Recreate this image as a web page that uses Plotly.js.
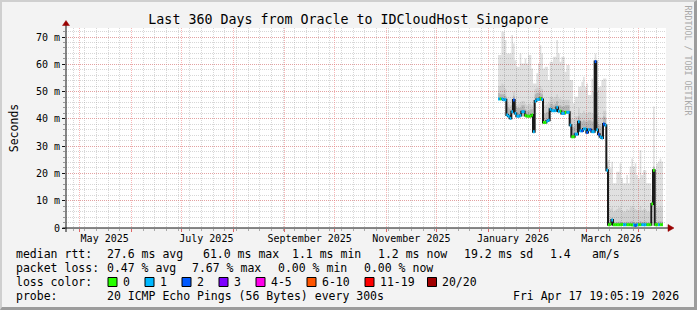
<!DOCTYPE html>
<html><head><meta charset="utf-8">
<script src="https://cdn.plot.ly/plotly-3.0.1.min.js"></script>
<style>
html,body{margin:0;padding:0;background:#f3f3f3;}
#wrap{position:relative;width:697px;height:310px;overflow:hidden;}
#frame{position:absolute;left:0;top:0;width:697px;height:310px;box-sizing:border-box;border-left:2px solid #cfcfcf;border-top:2px solid #cfcfcf;border-right:3px solid #9c9c9c;border-bottom:3px solid #9c9c9c;pointer-events:none;}
</style>
</head><body>
<div id="wrap"><div id="chart"></div><div id="frame"></div></div>
<script>
// ---- data ----
const rangeStart = '2025-04-22 19:05:19';
const rangeEnd = '2026-04-17 19:05:19';

const days = [
 "2026-01-07","2026-01-08","2026-01-09","2026-01-10","2026-01-11","2026-01-12","2026-01-13","2026-01-14","2026-01-15","2026-01-16",
 "2026-01-17","2026-01-18","2026-01-19","2026-01-20","2026-01-21","2026-01-22","2026-01-23","2026-01-24","2026-01-25","2026-01-26",
 "2026-01-27","2026-01-28","2026-01-29","2026-01-30","2026-01-31","2026-02-01","2026-02-02","2026-02-03","2026-02-04","2026-02-05",
 "2026-02-06","2026-02-07","2026-02-08","2026-02-09","2026-02-10","2026-02-11","2026-02-12","2026-02-13","2026-02-14","2026-02-15",
 "2026-02-16","2026-02-17","2026-02-18","2026-02-19","2026-02-20","2026-02-21","2026-02-22","2026-02-23","2026-02-24","2026-02-25",
 "2026-02-26","2026-02-27","2026-02-28","2026-03-01","2026-03-02","2026-03-03","2026-03-04","2026-03-05","2026-03-06","2026-03-07",
 "2026-03-08","2026-03-09","2026-03-10","2026-03-11","2026-03-12","2026-03-13","2026-03-14","2026-03-15","2026-03-16","2026-03-17",
 "2026-03-18","2026-03-19","2026-03-20","2026-03-21","2026-03-22","2026-03-23","2026-03-24","2026-03-25","2026-03-26","2026-03-27",
 "2026-03-28","2026-03-29","2026-03-30","2026-03-31","2026-04-01","2026-04-02","2026-04-03","2026-04-04","2026-04-05","2026-04-06",
 "2026-04-07","2026-04-08","2026-04-09","2026-04-10","2026-04-11","2026-04-12","2026-04-13","2026-04-14","2026-04-15","2026-04-16"
];

// median rtt (ms)
const medianMs = [
 47.3,47.3,47.3,47.0,47.0, 41.4,41.0,40.2,42.6,46.9,
 42.0,41.0,41.0,41.2,42.6, 42.6,41.2,41.0,41.0,41.0,
 41.4,35.3,46.5,47.1,47.1, 47.5,47.1,38.7,38.7,39.2,
 39.5,43.5,43.0,43.0,43.0, 44.2,42.8,42.8,42.0,42.0,
 42.4,42.4,42.4,37.7,33.4, 33.4,34.4,34.4,38.9,35.6,
 35.6,36.3,36.3,35.0,36.0, 36.0,35.3,35.3,61.0,36.0,
 34.4,33.4,33.0,38.1,37.7, 21.2,1.2,1.4,2.9,1.2,
 1.2,1.2,1.2,1.2,1.3, 1.2,1.2,1.2,1.2,1.2,
 1.1,1.2,0.9,1.2,1.2, 1.2,1.2,1.2,1.2,1.2,
 1.2,1.2,8.8,21.2,1.2, 1.2,1.2,1.2,1.2,1.2
];

// loss bucket index per step (0 -> "0", 1 -> "1", 2 -> "2")
const lossBucket = [
 1,0,1,1,1, 1,1,1,1,2,
 1,1,1,1,1, 1,0,0,0,0,
 0,1,1,1,1, 0,1,0,0,1,
 1,1,1,1,1, 1,1,0,1,1,
 0,1,1,1,0, 0,1,1,1,1,
 2,1,1,2,1, 2,1,1,2,1,
 2,1,1,2,1, 1,0,0,1,0,
 0,0,0,0,0, 1,1,0,0,0,
 0,1,2,1,0, 0,1,1,1,0,
 0,0,0,0,0, 0,1,0,0,0
];

// top of the darkest smoke just above the median (ms)
const smokeDenseMs = [
 49.5,49.0,49.0,49.0,48.5, 44.5,44.0,43.5,45.0,48.5,
 44.5,44.0,44.0,44.0,45.0, 45.0,43.5,43.0,43.0,43.5,
 43.5,40.0,49.0,49.5,49.5, 49.5,49.0,42.0,42.0,42.5,
 42.5,45.5,45.5,45.0,45.5, 46.5,45.0,45.0,44.5,44.5,
 45.0,45.0,45.0,40.0,37.0, 37.0,38.0,38.0,41.0,39.0,
 39.0,39.5,39.0,39.0,39.5, 39.5,39.0,39.0,61.5,39.0,
 38.0,37.5,37.0,41.0,40.5, 22.5,2.2,2.4,3.8,2.1,
 2.0,2.2,2.3,2.4,2.2, 2.0,2.1,2.3,2.1,2.4,
 2.5,2.3,2.0,2.2,2.1, 2.6,2.2,2.3,2.4,2.0,
 2.0,2.1,9.5,22.5,2.2, 2.3,2.4,2.5,2.3,2.3
];

// top of the medium smoke (ms)
const smokeMidMs = [
 52.0,52.0,53.0,52.5,51.0, 46.0,45.5,45.0,47.0,50.0,
 46.0,45.0,45.5,46.0,46.5, 46.5,45.5,45.0,45.5,45.5,
 45.0,44.0,51.0,51.5,51.5, 52.0,51.0,45.0,45.0,45.5,
 46.0,48.0,48.0,47.5,48.0, 49.0,47.5,47.5,47.0,47.0,
 47.0,47.0,47.0,43.0,40.0, 40.0,41.0,41.0,44.0,42.0,
 42.0,43.0,42.0,42.0,42.5, 42.5,42.0,42.0,61.5,42.0,
 41.0,40.5,40.5,43.0,43.0, 22.5,7.5,7.0,7.5,6.0,
 6.5,7.0,7.5,7.5,6.5, 6.0,6.0,7.0,6.5,7.5,
 8.0,7.5,7.0,6.5,6.5, 8.0,6.5,7.0,7.0,6.0,
 6.0,6.0,9.5,22.5,7.0, 7.5,7.5,8.0,7.5,7.5
];

// top of the light smoke, i.e. max ping (ms)
const smokeMaxMs = [
 63.4,63.4,71.9,71.9,68.9, 64.0,64.0,64.0,70.7,67.6,
 61.5,59.1,59.1,64.0,60.3, 60.3,62.1,60.3,63.4,63.4,
 58.5,53.0,53.0,56.7,60.3, 67.0,64.0,58.5,59.1,59.1,
 54.2,60.9,60.9,62.8,62.8, 68.9,64.0,60.9,62.8,62.8,
 57.3,59.7,59.7,54.2,54.2, 45.7,48.1,48.1,51.8,51.8,
 53.6,55.4,51.8,53.0,48.7, 48.7,54.8,49.9,64.0,49.9,
 51.8,51.8,54.2,54.8,54.8, 24.3,25.0,21.9,24.3,16.4,
 16.4,20.6,20.6,23.7,18.2, 16.4,16.4,19.4,16.4,22.5,
 25.5,22.5,23.7,19.4,18.2, 28.6,19.4,21.2,21.2,16.4,
 16.4,16.4,12.0,44.5,21.2, 23.7,24.4,25.5,24.4,24.4
];

const monthLabelDates = ['2025-05-16','2025-07-16','2025-09-16','2025-11-16','2026-01-16','2026-03-16'];
const monthLabels = ['May 2025','July 2025','September 2025','November 2025','January 2026','March 2026'];
const yTickVals = [0,10,20,30,40,50,60,70];
const yTickText = ['0','10 m','20 m','30 m','40 m','50 m','60 m','70 m'];

const lossNames = ['0','1','2','3','4-5','6-10','11-19','20/20'];
const lossColors = ['#26ff00','#00b8ff','#0059ff','#7e00ff','#ff00ea','#ff5500','#ff0000','#a10000'];

const statsRtt = ['median rtt:','27.6 ms avg','61.0 ms max','1.1 ms min','1.2 ms now','19.2 ms sd','1.4','am/s'];
const statsLoss = ['packet loss:','0.47 % avg','7.67 % max','0.00 % min','0.00 % now'];
const probeText = ['probe:','20 ICMP Echo Pings (56 Bytes) every 300s','Fri Apr 17 19:05:19 2026'];

// ---- layout helpers (pixel -> paper) ----
const L = 66, T = 28, W = 600, H = 200;
const px = v => (v - L) / W;
const py = v => (T + H - v) / H;

// ---- traces ----
const traces = [];
const base = {x: days, type:'scatter', mode:'lines', line:{width:0, shape:'hv'}, hoverinfo:'skip', showlegend:false};
traces.push(Object.assign({}, base, {y: medianMs}));
traces.push(Object.assign({}, base, {y: smokeMaxMs, fill:'tonexty', fillcolor:'rgba(0,0,0,0.12)'}));
traces.push(Object.assign({}, base, {y: medianMs}));
traces.push(Object.assign({}, base, {y: smokeMidMs, fill:'tonexty', fillcolor:'rgba(0,0,0,0.07)'}));
traces.push(Object.assign({}, base, {y: medianMs}));
traces.push(Object.assign({}, base, {y: smokeDenseMs, fill:'tonexty', fillcolor:'rgba(0,0,0,0.13)'}));
traces.push({x: days, y: medianMs, type:'scatter', mode:'lines', line:{width:2, color:'#1a1a1a', shape:'hv'}, hoverinfo:'skip', showlegend:false});

for (let b = 0; b < 3; b++) {
  const xs = [], ys = [];
  for (let k = 0; k < days.length - 1; k++) {
    if (lossBucket[k] === b) { xs.push(days[k], days[k+1], null); ys.push(medianMs[k], medianMs[k], null); }
  }
  traces.push({x: xs, y: ys, type:'scatter', mode:'lines', line:{width:3, color:lossColors[b]}, hoverinfo:'skip', showlegend:false, connectgaps:false});
}
// empty trace so the label axis exists
traces.push({x:[rangeStart], y:[null], xaxis:'x2', yaxis:'y', type:'scatter', mode:'lines', hoverinfo:'skip', showlegend:false});

// ---- annotations ----
const mono = 'DejaVu Sans Mono';
const ann = [];
function txt(t, x, y, size, color) {
  ann.push({text:t, xref:'paper', yref:'paper', x:px(x), y:py(y), xanchor:'left', yanchor:'middle', showarrow:false, borderpad:0, borderwidth:0, font:{family:mono, size:size||11.5, color:color||'#000'}});
}
const rttX = [16,107,203.5,292.5,378.5,464.5,550.5,592.5];
statsRtt.forEach((t,i)=>txt(t, rttX[i]-0.5, 254));
const lossX = [16,107.5,192.5,278.5,364.5];
statsLoss.forEach((t,i)=>txt(t, lossX[i]-0.5, 268));
txt('loss color:', 15.5, 282);
const boxX = [108,145,182,219,256,307,365,427.5];
const shapes = [];
lossNames.forEach((n,i)=>{
  shapes.push({type:'rect', xref:'paper', yref:'paper', x0:px(boxX[i]), x1:px(boxX[i]+9), y0:py(277.5), y1:py(286.5), fillcolor:lossColors[i], line:{color:'#000', width:1}});
  txt(n, boxX[i]+15, 282);
});
txt(probeText[0], 15.5, 296);
txt(probeText[1], 107, 296);
txt(probeText[2], 512.5, 296);
ann.push({text:'RRDTOOL / TOBI OETIKER', xref:'paper', yref:'paper', x:px(687.5), y:py(60), xanchor:'center', yanchor:'middle', textangle:90, showarrow:false, borderpad:0, borderwidth:0, font:{family:mono, size:8.3, color:'#a9a9a9'}});

// axis lines and arrows
shapes.push({type:'line', xref:'paper', yref:'paper', x0:px(62.5), x1:px(668), y0:0, y1:0, line:{color:'#111', width:1}});
shapes.push({type:'line', xref:'paper', yref:'paper', x0:0, x1:0, y0:py(232), y1:py(25), line:{color:'#111', width:1}});
shapes.push({type:'path', xref:'paper', yref:'paper', path:`M ${px(668)} ${py(224.5)} L ${px(674)} ${py(228)} L ${px(668)} ${py(231.5)} Z`, fillcolor:'#990000', line:{color:'#990000', width:0.5}});
shapes.push({type:'path', xref:'paper', yref:'paper', path:`M ${px(62.5)} ${py(25.5)} L ${px(66)} ${py(20.5)} L ${px(69.5)} ${py(25.5)} Z`, fillcolor:'#990000', line:{color:'#990000', width:0.5}});

const majorGrid = 'rgba(240,110,110,0.5)';
const minorGrid = 'rgba(150,150,150,0.38)';

const layout = {
  width:697, height:310,
  margin:{l:L, r:697-L-W, t:T, b:310-T-H, pad:0},
  paper_bgcolor:'#f3f3f3', plot_bgcolor:'#ffffff',
  showlegend:false,
  font:{family:mono, size:10, color:'#000'},
  title:{text:'Last 360 Days from Oracle to IDCloudHost Singapore', font:{family:mono, size:13.3, color:'#000'}, xref:'container', yref:'container', x:0.5, xanchor:'center', y:1-19/310, yanchor:'middle'},
  xaxis:{type:'date', range:[rangeStart, rangeEnd], tick0:'2025-05-01', dtick:'M1', showticklabels:false,
    ticks:'outside', ticklen:3, tickcolor:'#e06666', showgrid:true, gridcolor:majorGrid, griddash:'1px,1px', gridwidth:1,
    zeroline:false, showline:false, fixedrange:true,
    minor:{tick0:'2025-04-27', dtick:604800000, showgrid:true, gridcolor:minorGrid, griddash:'1px,1px', ticks:'outside', ticklen:2, tickcolor:'#aaaaaa'}},
  xaxis2:{type:'date', overlaying:'x', anchor:'y', side:'bottom', range:[rangeStart, rangeEnd], tickmode:'array',
    tickvals:monthLabelDates, ticktext:monthLabels, showgrid:false, ticks:'', zeroline:false, showline:false, fixedrange:true,
    tickfont:{family:mono, size:10, color:'#000'}, ticklabelstandoff:3},
  yaxis:{range:[0,73.3], tickmode:'array', tickvals:yTickVals, ticktext:yTickText, ticks:'outside', ticklen:3, tickcolor:'#111',
    showgrid:true, gridcolor:majorGrid, griddash:'1px,1px', gridwidth:1, zeroline:false, showline:false, fixedrange:true,
    tickfont:{family:mono, size:10, color:'#000'},
    minor:{tickmode:'linear', tick0:0, dtick:2, showgrid:true, gridcolor:minorGrid, griddash:'1px,1px', ticks:'outside', ticklen:2, tickcolor:'#999999'},
    title:{text:'Seconds', font:{family:mono, size:11.5, color:'#000'}, standoff:14}},
  annotations: ann,
  shapes: shapes
};

Plotly.newPlot('chart', traces, layout, {staticPlot:true, displayModeBar:false});
</script>
</body></html>
